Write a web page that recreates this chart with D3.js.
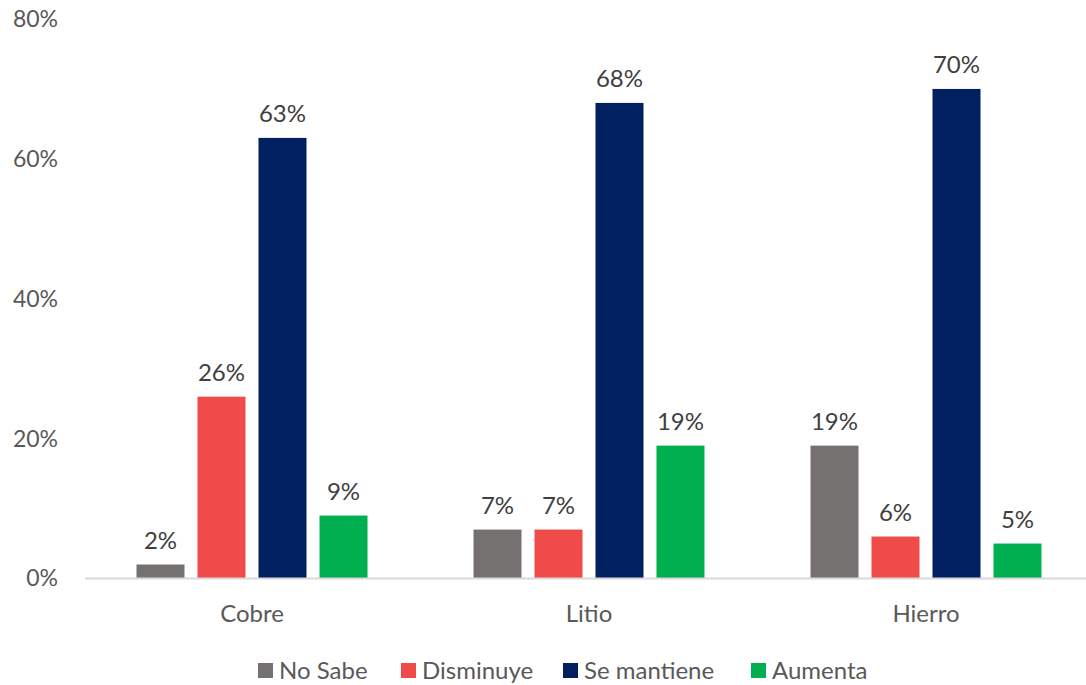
<!DOCTYPE html>
<html><head><meta charset="utf-8">
<script src="https://cdn.jsdelivr.net/npm/d3@7"></script>
<style>body{margin:0;background:#fff}svg text{font-family:Lato,"Open Sans",sans-serif}</style>
</head><body><svg id="c" width="1086" height="685"></svg>
<script>
const categories = ["Cobre", "Litio", "Hierro"];
const seriesNames = ["No Sabe", "Disminuye", "Se mantiene", "Aumenta"];
const noSabe = [2, 7, 19];
const disminuye = [26, 7, 6];
const seMantiene = [63, 68, 70];
const aumenta = [9, 19, 5];
const yTicks = [0, 20, 40, 60, 80];
const colors = ["#767171", "#EF4B4B", "#002060", "#00B050"];

const values = [noSabe, disminuye, seMantiene, aumenta];
const svg = d3.select("#c");
const x0 = d3.scaleBand().domain(categories).range([83.5, 1094.5]).padding(0);
const groupW = 244;
const x1 = d3.scaleBand().domain(seriesNames).range([0, groupW]).paddingInner(13/61).paddingOuter(13/122);
const y = d3.scaleLinear().domain([0, 80]).range([578.5, 19]);

// y axis labels
const yAxis = d3.axisLeft(y).tickValues(yTicks).tickFormat(d => d + "%").tickSize(0).tickPadding(0);
const ga = svg.append("g").attr("transform", "translate(58,0)").call(yAxis);
ga.select(".domain").remove();
ga.selectAll("text").attr("font-size", 23).attr("fill", "#595959").attr("font-family", "Lato");

// bars
categories.forEach((c, ci) => {
  const gx = x0(c) + x0.bandwidth() / 2 - groupW / 2;
  seriesNames.forEach((s, si) => {
    const v = values[si][ci];
    svg.append("rect")
      .attr("x", gx + x1(s)).attr("width", x1.bandwidth())
      .attr("y", y(v)).attr("height", y(0) - y(v))
      .attr("fill", colors[si]);
    svg.append("text")
      .attr("x", gx + x1(s) + x1.bandwidth() / 2)
      .attr("y", y(v) - 16)
      .attr("text-anchor", "middle")
      .attr("font-size", 24).attr("fill", "#404040")
      .text(v + "%");
  });
});

// x axis
const xAxis = d3.axisBottom(x0).tickSize(0).tickPadding(26);
const gx = svg.append("g").attr("transform", "translate(0,578.5)").call(xAxis);
gx.select(".domain").attr("stroke", "#D9D9D9").attr("stroke-width", 2).attr("d", "M85,0H1094.5");
gx.selectAll("text").attr("font-size", 24).attr("fill", "#595959").attr("font-family", "Lato");

// legend
const legX = [258, 401, 563, 751];
seriesNames.forEach((s, i) => {
  const g = svg.append("g").attr("transform", `translate(${legX[i]},663)`);
  g.append("rect").attr("x", 0).attr("y", 0).attr("width", 15).attr("height", 15).attr("fill", colors[i]);
  g.append("text").attr("x", 21).attr("y", 16).attr("font-size", 24).attr("fill", "#595959").text(s);
});
</script></body></html>
